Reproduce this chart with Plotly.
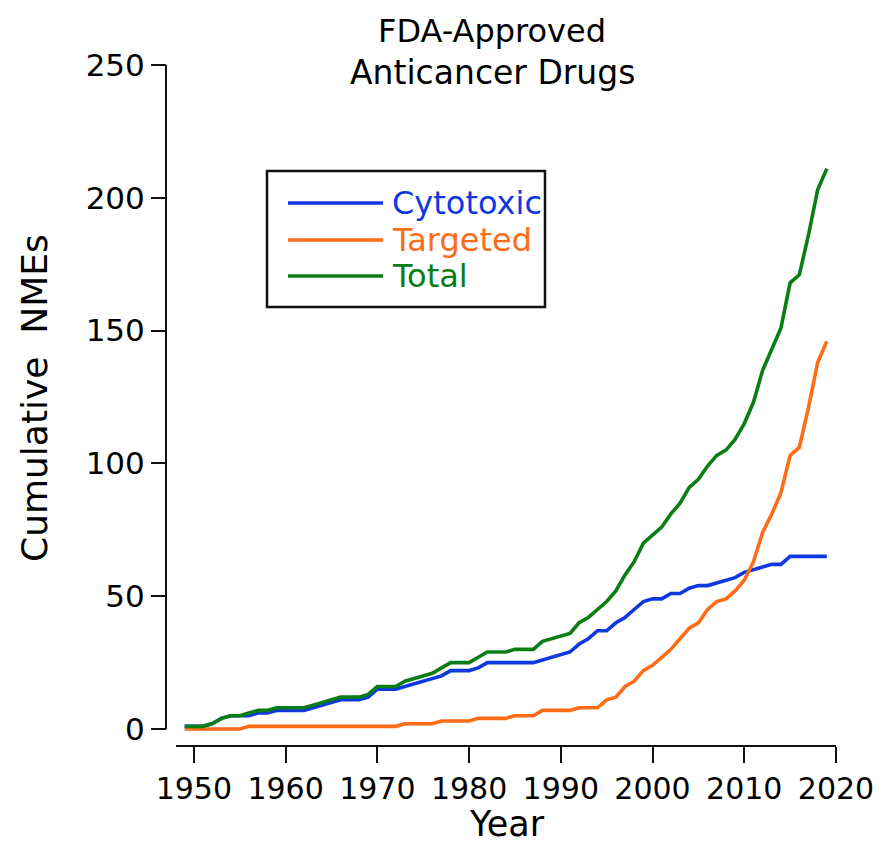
import plotly.graph_objects as go

# ---------------- data ----------------
years = list(range(1949, 2020))

cytotoxic = [1, 1, 1, 2, 4, 5, 5, 5, 6, 6,          # 1949-1958
             7, 7, 7, 7, 8, 9, 10, 11, 11, 11,      # 1959-1968
             12, 15, 15, 15, 16, 17, 18, 19, 20, 22,  # 1969-1978
             22, 22, 23, 25, 25, 25, 25, 25, 25, 26,  # 1979-1988
             27, 28, 29, 32, 34, 37, 37, 40, 42, 45,  # 1989-1998
             48, 49, 49, 51, 51, 53, 54, 54, 55, 56,  # 1999-2008
             57, 59, 60, 61, 62, 62, 65, 65, 65, 65,  # 2009-2018
             65]                                      # 2019

targeted = [0, 0, 0, 0, 0, 0, 0, 1, 1, 1,            # 1949-1958
            1, 1, 1, 1, 1, 1, 1, 1, 1, 1,            # 1959-1968
            1, 1, 1, 1, 2, 2, 2, 2, 3, 3,            # 1969-1978
            3, 3, 4, 4, 4, 4, 5, 5, 5, 7,            # 1979-1988
            7, 7, 7, 8, 8, 8, 11, 12, 16, 18,        # 1989-1998
            22, 24, 27, 30, 34, 38, 40, 45, 48, 49,  # 1999-2008
            52, 56, 63, 74, 81, 89, 103, 106, 121, 138,  # 2009-2018
            146]                                     # 2019

total = [1, 1, 1, 2, 4, 5, 5, 6, 7, 7,               # 1949-1958
         8, 8, 8, 8, 9, 10, 11, 12, 12, 12,          # 1959-1968
         13, 16, 16, 16, 18, 19, 20, 21, 23, 25,     # 1969-1978
         25, 25, 27, 29, 29, 29, 30, 30, 30, 33,     # 1979-1988
         34, 35, 36, 40, 42, 45, 48, 52, 58, 63,     # 1989-1998
         70, 73, 76, 81, 85, 91, 94, 99, 103, 105,   # 1999-2008
         109, 115, 123, 135, 143, 151, 168, 171, 186, 203,  # 2009-2018
         211]                                        # 2019

series_names = ["Cytotoxic", "Targeted", "Total"]
series_colors = ["#1038e0", "#ff6c17", "#0a7d14"]
x_ticks = [1950, 1960, 1970, 1980, 1990, 2000, 2010, 2020]
y_ticks = [0, 50, 100, 150, 200, 250]

title_lines = ["FDA-Approved", "Anticancer Drugs"]
x_title = "Year"
y_title = "Cumulative  NMEs"

# ---------------- layout geometry (window pixels; page has an 8px body margin) ----------------
W, H = 894, 849
OFF = 8
PLOT_L, PLOT_R, PLOT_T, PLOT_B = 166, 836, 65, 745   # window pixels
L = PLOT_L - OFF
T = PLOT_T - OFF
R = W - (PLOT_R - OFF)
B = H - (PLOT_B - OFF)
PW = W - L - R
PH = H - T - B
Y_LO = -6.02
Y_HI = 250
FONT = "DejaVu Sans"


def fx(px):
    return (px - OFF - L) / PW


def fy(py):
    return (H - B - (py - OFF)) / PH


fig = go.Figure()
for name, vals, col in zip(series_names, [cytotoxic, targeted, total], series_colors):
    fig.add_trace(go.Scatter(x=years, y=vals, mode="lines", name=name,
                             line=dict(color=col, width=3.6), showlegend=False))

fig.update_layout(
    width=W, height=H,
    margin=dict(l=L, r=R, t=T, b=B, autoexpand=False),
    paper_bgcolor="white", plot_bgcolor="white",
    font=dict(family=FONT, color="black"),
    showlegend=False,
    xaxis=dict(domain=[fx(175.5), 1], range=[1948, 2020], anchor="y",
               showline=True, linecolor="#111", linewidth=2,
               ticks="outside", ticklen=16, tickwidth=2, tickcolor="#111",
               tickvals=x_ticks, tickfont=dict(size=30, family=FONT),
               showgrid=False, zeroline=False),
    yaxis=dict(domain=[0, 1], range=[Y_LO, Y_HI], anchor="free", position=0,
               showline=False,
               ticks="outside", ticklen=15, tickwidth=2, tickcolor="#111",
               tickvals=y_ticks, tickfont=dict(size=31, family=FONT),
               showgrid=False, zeroline=False),
)

shapes = [
    # detached y-axis line (from 0 to 250)
    dict(type="line", xref="paper", yref="y", x0=0, x1=0, y0=0, y1=250,
         line=dict(color="#111", width=2)),
    # legend frame
    dict(type="rect", xref="paper", yref="paper",
         x0=fx(267), x1=fx(545), y0=fy(171), y1=fy(307),
         line=dict(color="#111", width=2.5), fillcolor="white"),
]
annotations = []
leg_rows = [203, 240, 276]
for name, col, yy in zip(series_names, series_colors, leg_rows):
    shapes.append(dict(type="line", xref="paper", yref="paper",
                       x0=fx(288), x1=fx(383), y0=fy(yy), y1=fy(yy),
                       line=dict(color=col, width=3.6)))
    annotations.append(dict(text=name, xref="paper", yref="paper",
                            x=fx(390), y=fy(yy), xanchor="left", yanchor="middle",
                            showarrow=False, font=dict(size=32, color=col, family=FONT)))

annotations += [
    dict(text=title_lines[0], xref="paper", yref="paper", x=fx(492), y=fy(31),
         xanchor="center", yanchor="middle", showarrow=False,
         font=dict(size=32, family=FONT, color="black")),
    dict(text=title_lines[1], xref="paper", yref="paper", x=fx(492), y=fy(73),
         xanchor="center", yanchor="middle", showarrow=False,
         font=dict(size=33, family=FONT, color="black")),
    dict(text=x_title, xref="paper", yref="paper", x=fx(507), y=fy(824),
         xanchor="center", yanchor="middle", showarrow=False,
         font=dict(size=35, family=FONT, color="black")),
    dict(text=y_title, xref="paper", yref="paper", x=fx(34), y=fy(398),
         xanchor="center", yanchor="middle", showarrow=False, textangle=-90,
         font=dict(size=36, family=FONT, color="black")),
]
fig.update_layout(shapes=shapes, annotations=annotations)

fig.write_html("out.html")
